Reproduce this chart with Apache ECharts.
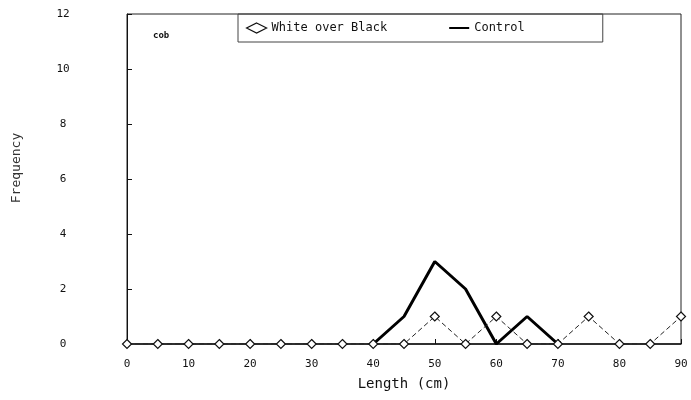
<!DOCTYPE html>
<html>
<head>
<meta charset="utf-8">
<script src="https://cdn.jsdelivr.net/npm/echarts@6/dist/echarts.min.js"></script>
<style>
  html, body { margin: 0; padding: 0; background: #fff; }
  #chart { width: 691px; height: 400px; }
</style>
</head>
<body>
<div id="chart"></div>
<script>
// length classes (cm)
const lengths = [0, 5, 10, 15, 20, 25, 30, 35, 40, 45, 50, 55, 60, 65, 70, 75, 80, 85, 90];
const whiteOverBlack = [0, 0, 0, 0, 0, 0, 0, 0, 0, 0, 1, 0, 1, 0, 0, 1, 0, 0, 1];
const controlLengths = [40, 45, 50, 55, 60, 65, 70];
const control = [0, 1, 3, 2, 0, 1, 0];
const yTicks = [0, 2, 4, 6, 8, 10, 12];

const chart = echarts.init(document.getElementById('chart'));
const font = 'DejaVu Sans Mono';

chart.setOption({
  animation: false,
  backgroundColor: '#fff',
  textStyle: { fontFamily: font, color: '#111' },
  grid: { left: 127, top: 14, right: 10, bottom: 56, show: true, borderColor: '#222', borderWidth: 1 },
  legend: {
    left: 238, top: 14,
    itemGap: 62,
    itemWidth: 20, itemHeight: 10,
    textStyle: { fontFamily: font, fontSize: 12, color: '#111' },
    borderColor: '#444', borderWidth: 1, padding: [8, 78, 8, 8],
    data: [
      { name: 'White over Black', icon: 'diamond', itemStyle: { color: '#fff', borderColor: '#111', borderWidth: 1.2 } },
      { name: 'Control', icon: 'path://M0,4 L20,4 L20,6 L0,6 Z', itemStyle: { color: '#000' } }
    ]
  },
  graphic: [
    { type: 'text', left: 153, top: 31, style: { text: 'cob', font: 'bold 9px ' + font, fill: '#111' } },
    { type: 'text', x: 17, y: 168, rotation: Math.PI / 2,
      style: { text: 'Frequency', font: '13px ' + font, fill: '#333', align: 'center', verticalAlign: 'middle' } }
  ],
  xAxis: {
    type: 'value', min: 0, max: 90, interval: 10,
    name: 'Length (cm)', nameLocation: 'middle', nameGap: 33,
    nameTextStyle: { fontFamily: font, fontSize: 14, color: '#111' },
    axisLine: { show: true, lineStyle: { color: '#111', width: 1.5 } },
    axisTick: { show: true, inside: true, length: 5, lineStyle: { color: '#111' } },
    axisLabel: { fontFamily: font, fontSize: 11, color: '#111', margin: 15 },
    splitLine: { show: false }
  },
  yAxis: {
    type: 'value', min: 0, max: 12, interval: 2,
    axisLine: { show: true, lineStyle: { color: '#111' } },
    axisTick: { show: true, inside: true, length: 5, lineStyle: { color: '#111' } },
    axisLabel: { fontFamily: font, fontSize: 11, color: '#111', margin: 64, align: 'center',
      formatter: v => yTicks.includes(v) ? String(v) : '' },
    splitLine: { show: false }
  },
  series: [
    {
      name: 'White over Black', type: 'line',
      data: lengths.map((x, i) => [x, whiteOverBlack[i]]),
      symbol: 'diamond', symbolSize: 9, showAllSymbol: true,
      lineStyle: { color: '#222', width: 1, type: [5, 3] },
      itemStyle: { color: '#fff', borderColor: '#111', borderWidth: 1.2 },
      z: 3
    },
    {
      name: 'Control', type: 'line',
      data: controlLengths.map((x, i) => [x, control[i]]),
      symbol: 'none',
      lineStyle: { color: '#000', width: 3 },
      itemStyle: { color: '#000' },
      z: 2
    }
  ]
});
</script>
</body>
</html>
